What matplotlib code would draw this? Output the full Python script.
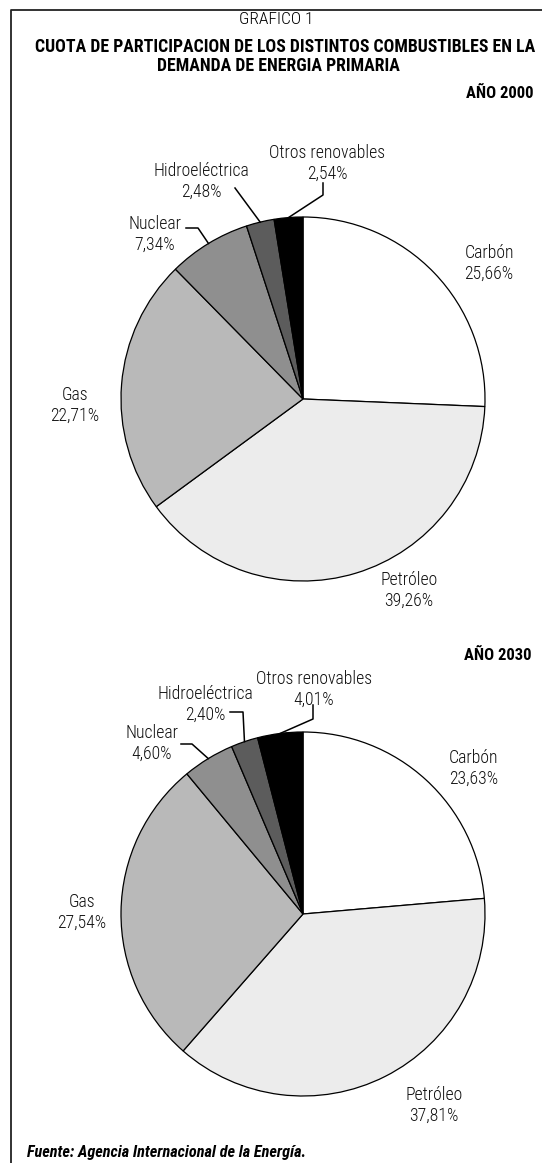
import numpy as np
import matplotlib
matplotlib.use('Agg')
import matplotlib.pyplot as plt
from matplotlib import font_manager
from matplotlib.lines import Line2D

# Cuota de cada combustible (%), años 2000 y 2030
combustibles = ['Carbón', 'Petróleo', 'Gas', 'Nuclear', 'Hidroeléctrica', 'Otros renovables']
cuota_2000 = [25.66, 39.26, 22.71, 7.34, 2.48, 2.54]
cuota_2030 = [23.63, 37.81, 27.54, 4.60, 2.40, 4.01]
colores = ['#ffffff', '#ececec', '#b9b9b9', '#8f8f8f', '#5c5c5c', '#000000']

W, H = 542, 1163
R = 182  # radio de la tarta en pixeles

# busca una letra estrecha; si no hay, Roboto
fuentes = font_manager.fontManager.ttflist
nombres = {f.name for f in fuentes}
estrecha = None
for cand in ['Liberation Sans Narrow', 'Roboto Condensed', 'Noto Sans Condensed',
             'Open Sans Condensed', 'DejaVu Sans Condensed']:
    if cand in nombres:
        estrecha = (cand, 'normal')
        break
if estrecha is None:
    for f in fuentes:
        if f.name in ('DejaVu Sans', 'Noto Sans', 'Open Sans') and 'condensed' in str(f.stretch):
            estrecha = (f.name, 'condensed')
            break
if estrecha is None:
    estrecha = ('Roboto', 'normal')
plt.rcParams['font.family'] = [estrecha[0], 'DejaVu Sans']
plt.rcParams['font.stretch'] = estrecha[1]

fig = plt.figure(figsize=(W / 100, H / 100), dpi=100)
fig.patch.set_facecolor('white')


def fx(x):
    return x / W


def fy(y):
    return 1 - y / H


# marco superior e izquierdo
fig.add_artist(Line2D([fx(11), fx(11), 1], [0, fy(10), fy(10)], color='#222222', lw=1.3))

fig.text(fx(276), fy(19), 'GRAFICO 1', ha='center', va='center', fontsize=12.5,
         fontweight='light')
fig.text(fx(285), fy(47), 'CUOTA DE PARTICIPACION DE LOS DISTINTOS COMBUSTIBLES EN LA',
         ha='center', va='center', fontsize=12.8, fontweight='bold')
fig.text(fx(278), fy(66), 'DEMANDA DE ENERGIA PRIMARIA', ha='center', va='center',
         fontsize=12.8, fontweight='bold')
fig.text(fx(533), fy(93), 'AÑO 2000', ha='right', va='center', fontsize=12, fontweight='bold')
fig.text(fx(531), fy(655), 'AÑO 2030', ha='right', va='center', fontsize=12, fontweight='bold')
fig.text(fx(27), fy(1153), 'Fuente: Agencia Internacional de la Energía.', ha='left', va='center',
         fontsize=11.7, fontweight='bold', fontstyle='italic')

# posicion de las etiquetas (centro del texto) y de los quiebres de las guias, en pixeles
etiquetas_2000 = {
    'Carbón': ((489, 263), None),
    'Petróleo': ((409, 590), None),
    'Gas': ((75, 405), None),
    'Nuclear': ((155, 234), [(186, 228), (198, 228)]),
    'Hidroeléctrica': ((201, 181), [(235, 188)]),
    'Otros renovables': ((327, 163), [(323, 183), (323, 195)]),
}
etiquetas_2030 = {
    'Carbón': ((474, 768), None),
    'Petróleo': ((434, 1105), None),
    'Gas': ((82, 912), None),
    'Nuclear': ((152, 743), [(181, 744), (192, 744)]),
    'Hidroeléctrica': ((205, 704), [(230, 712), (243, 712)]),
    'Otros renovables': ((314, 689), [(313, 705), (313, 719)]),
}


def dibujar_tarta(valores, cx, cy, etiquetas):
    ax = fig.add_axes([fx(cx - R), fy(cy + R), 2 * R / W, 2 * R / H])
    cunas, _ = ax.pie(valores, colors=colores, startangle=90, counterclock=False,
                      wedgeprops=dict(edgecolor='black', linewidth=0.9))
    ax.set_xlim(-1, 1)
    ax.set_ylim(-1, 1)
    ax.set_aspect('equal')
    ax.axis('off')

    def a_datos(p):
        return ((p[0] - cx) / R, (cy - p[1]) / R)

    for nombre, valor, cuna in zip(combustibles, valores, cunas):
        (tx, ty), guia = etiquetas[nombre]
        texto = '%s\n%s%%' % (nombre, ('%.2f' % valor).replace('.', ','))
        x, y = a_datos((tx, ty))
        ax.text(x, y, texto, ha='center', va='center', fontsize=12.8, fontweight='light',
                linespacing=1.2, clip_on=False, color='#111111')
        if guia:
            ang = np.deg2rad((cuna.theta1 + cuna.theta2) / 2)
            puntos = [a_datos(p) for p in guia] + [(np.cos(ang), np.sin(ang))]
            xs, ys = zip(*puntos)
            ax.plot(xs, ys, color='black', lw=1.1, clip_on=False)


dibujar_tarta(cuota_2000, 303, 399, etiquetas_2000)
dibujar_tarta(cuota_2030, 303, 914, etiquetas_2030)

fig.savefig('out.png', dpi=100, facecolor='white')
